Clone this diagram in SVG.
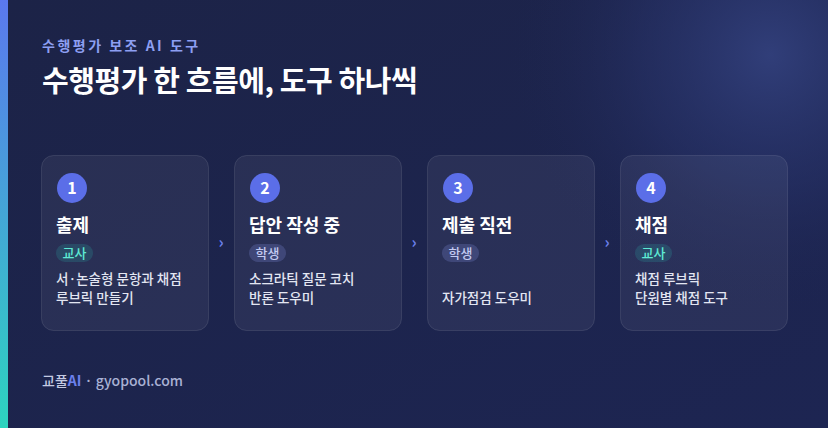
<svg xmlns="http://www.w3.org/2000/svg" width="828" height="428" viewBox="0 0 828 428">
<defs>
<linearGradient id="bg" x1="0" y1="0" x2="1" y2="1">
<stop offset="0" stop-color="#1c2347"/>
<stop offset="1" stop-color="#1d2552"/>
</linearGradient>
<radialGradient id="glow" cx="770" cy="55" r="260" gradientUnits="userSpaceOnUse">
<stop offset="0" stop-color="#33417e" stop-opacity="0.9"/>
<stop offset="0.5" stop-color="#2a3670" stop-opacity="0.45"/>
<stop offset="1" stop-color="#1d2552" stop-opacity="0"/>
</radialGradient>
<linearGradient id="bar" x1="0" y1="0" x2="0" y2="1">
<stop offset="0" stop-color="#5b78ee"/>
<stop offset="1" stop-color="#2dd4bf"/>
</linearGradient>
<style>
.t{font-family:"Noto Sans CJK KR","Noto Sans",sans-serif}
.card{fill:#ffffff;fill-opacity:0.06;stroke:#ffffff;stroke-opacity:0.1;stroke-width:1}
.num{fill:#5b6ee8}
.numt{fill:#fff;font-size:16px;font-weight:700;text-anchor:middle}
.h{fill:#fff;font-size:18px;font-weight:700}
.pt{fill:#2dd4bf;fill-opacity:0.16}
.ps{fill:#8b9cf0;fill-opacity:0.22}
.ptt{fill:#5eead4;font-size:13px;font-weight:500;text-anchor:middle}
.pst{fill:#c3cbf2;font-size:13px;font-weight:500;text-anchor:middle}
.d{fill:#e3e6f2;font-size:13.5px;font-weight:500}
.arr{fill:#6b80ec;font-size:16px;font-weight:700;text-anchor:middle}
</style>
</defs>
<rect width="828" height="428" fill="url(#bg)"/>
<rect width="828" height="428" fill="url(#glow)"/>
<rect x="0" y="0" width="8" height="428" fill="url(#bar)"/>
<text class="t" x="42" y="51" fill="#8d9ff2" font-size="14" font-weight="700" letter-spacing="2.5">수행평가 보조 AI 도구</text>
<text class="t" x="42" y="92" fill="#ffffff" font-size="29" font-weight="700" letter-spacing="-0.4">수행평가 한 흐름에, 도구 하나씩</text>
<g id="connectors">
<text class="t arr" x="221" y="248">›</text>
<text class="t arr" x="414" y="248">›</text>
<text class="t arr" x="607" y="248">›</text>
</g>
<g id="node1">
<rect class="card" x="41.5" y="155.5" width="167" height="175" rx="12"/>
<circle class="num" cx="72" cy="188" r="15"/>
<text class="t numt" x="72" y="194">1</text>
<text class="t h" x="56" y="232">출제</text>
<rect class="pt" x="56" y="244" width="37" height="18" rx="9"/>
<text class="t ptt" x="74.5" y="257.5">교사</text>
<text class="t d" x="56" y="284">서·논술형 문항과 채점</text>
<text class="t d" x="56" y="303">루브릭 만들기</text>
</g>
<g id="node2">
<rect class="card" x="234.5" y="155.5" width="167" height="175" rx="12"/>
<circle class="num" cx="265" cy="188" r="15"/>
<text class="t numt" x="265" y="194">2</text>
<text class="t h" x="249" y="232">답안 작성 중</text>
<rect class="ps" x="249" y="244" width="37" height="18" rx="9"/>
<text class="t pst" x="267.5" y="257.5">학생</text>
<text class="t d" x="249" y="284">소크라틱 질문 코치</text>
<text class="t d" x="249" y="303">반론 도우미</text>
</g>
<g id="node3">
<rect class="card" x="427.5" y="155.5" width="167" height="175" rx="12"/>
<circle class="num" cx="458" cy="188" r="15"/>
<text class="t numt" x="458" y="194">3</text>
<text class="t h" x="442" y="232">제출 직전</text>
<rect class="ps" x="442" y="244" width="37" height="18" rx="9"/>
<text class="t pst" x="460.5" y="257.5">학생</text>
<text class="t d" x="442" y="303">자가점검 도우미</text>
</g>
<g id="node4">
<rect class="card" x="620.5" y="155.5" width="167" height="175" rx="12"/>
<circle class="num" cx="651" cy="188" r="15"/>
<text class="t numt" x="651" y="194">4</text>
<text class="t h" x="635" y="232">채점</text>
<rect class="pt" x="635" y="244" width="37" height="18" rx="9"/>
<text class="t ptt" x="653.5" y="257.5">교사</text>
<text class="t d" x="635" y="284">채점 루브릭</text>
<text class="t d" x="635" y="303">단원별 채점 도구</text>
</g>
<text class="t" x="42" y="386" font-size="14" font-weight="500"><tspan fill="#c4cae2">교풀</tspan><tspan fill="#6b80ec" font-weight="700">AI</tspan><tspan fill="#a9b1d4"> · gyopool.com</tspan></text>
</svg>
